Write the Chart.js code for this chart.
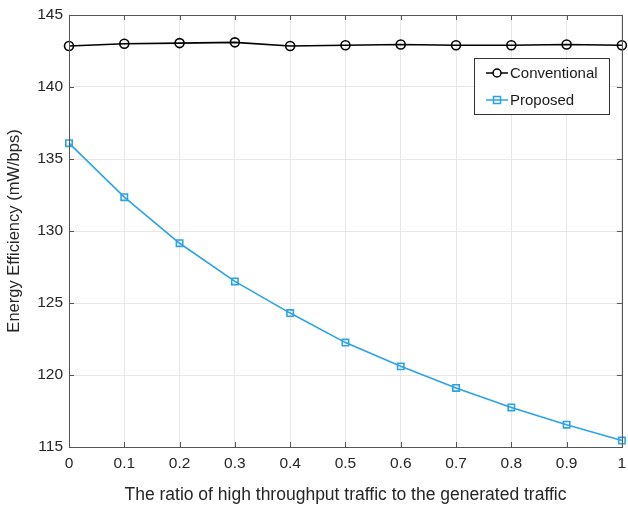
<!DOCTYPE html>
<html><head><meta charset="utf-8">
<script src="https://cdn.jsdelivr.net/npm/chart.js@4/dist/chart.umd.min.js"></script>
<style>html,body{margin:0;padding:0;background:#fff}#wrap{width:628px;height:506px}</style>
</head><body><div id="wrap"><canvas id="c" width="628" height="506"></canvas></div>
<script>
const ratios = [0, 0.1, 0.2, 0.3, 0.4, 0.5, 0.6, 0.7, 0.8, 0.9, 1];
const conventional = [142.85, 143.0, 143.05, 143.1, 142.85, 142.9, 142.95, 142.9, 142.9, 142.95, 142.9];
const proposed = [136.1, 132.35, 129.15, 126.5, 124.3, 122.25, 120.6, 119.1, 117.75, 116.55, 115.45];
const seriesNames = ['Conventional', 'Proposed'];
const xTitle = 'The ratio of high throughput traffic to the generated traffic';
const yTitle = 'Energy Efficiency (mW/bps)';

const FONT = '"Liberation Sans", Arial, sans-serif';
const BLUE = '#2ba3e6';

const boxPlugin = {
  id: 'box',
  afterDatasetsDraw(chart) {
    const {ctx, chartArea: a, scales} = chart;
    ctx.save();
    ctx.strokeStyle = '#555';
    ctx.lineWidth = 1;
    ctx.beginPath();
    scales.x.ticks.forEach(t => {
      const px = Math.round(scales.x.getPixelForValue(t.value)) + 0.5;
      ctx.moveTo(px, a.bottom); ctx.lineTo(px, a.bottom - 5);
      ctx.moveTo(px, a.top); ctx.lineTo(px, a.top + 5);
    });
    scales.y.ticks.forEach(t => {
      const py = Math.round(scales.y.getPixelForValue(t.value)) + 0.5;
      ctx.moveTo(a.left, py); ctx.lineTo(a.left + 5, py);
      ctx.moveTo(a.right, py); ctx.lineTo(a.right - 5, py);
    });
    ctx.stroke();
    ctx.strokeRect(Math.round(a.left) + 0.5, Math.round(a.top) + 0.5, Math.round(a.right - a.left), Math.round(a.bottom - a.top));
    // legend
    const lx = 474.5, ly = 58.5, lw = 135, lh = 56;
    ctx.fillStyle = '#fff';
    ctx.fillRect(lx, ly, lw, lh);
    ctx.strokeStyle = '#333';
    ctx.strokeRect(lx, ly, lw, lh);
    ctx.font = '15px ' + FONT;
    ctx.textBaseline = 'middle';
    const items = [
      {name: seriesNames[0], color: '#000', shape: 'circle', y: 73},
      {name: seriesNames[1], color: BLUE, shape: 'square', y: 100}
    ];
    items.forEach(it => {
      ctx.strokeStyle = it.color; ctx.lineWidth = 1.5;
      ctx.beginPath(); ctx.moveTo(486, it.y); ctx.lineTo(508, it.y); ctx.stroke();
      ctx.beginPath();
      if (it.shape === 'circle') { ctx.arc(497, it.y, 4, 0, Math.PI * 2); ctx.fillStyle = '#fff'; ctx.fill(); }
      else { ctx.rect(493.5, it.y - 3.5, 7, 7); }
      ctx.stroke();
      ctx.fillStyle = '#1a1a1a';
      ctx.fillText(it.name, 510, it.y + 1);
    });
    ctx.restore();
  }
};

new Chart(document.getElementById('c'), {
  type: 'line',
  data: {
    datasets: [
      {label: seriesNames[0], data: ratios.map((x, i) => ({x, y: conventional[i]})),
       borderColor: '#000', backgroundColor: 'rgba(0,0,0,0)', borderWidth: 1.6,
       pointStyle: 'circle', pointRadius: 4.5, pointBorderWidth: 1.6, pointBackgroundColor: 'rgba(0,0,0,0)', tension: 0},
      {label: seriesNames[1], data: ratios.map((x, i) => ({x, y: proposed[i]})),
       borderColor: BLUE, backgroundColor: 'rgba(0,0,0,0)', borderWidth: 1.6,
       pointStyle: 'rect', pointRadius: 4.5, pointBorderWidth: 1.6, pointBackgroundColor: 'rgba(0,0,0,0)', tension: 0}
    ]
  },
  options: {
    responsive: false, animation: false, devicePixelRatio: 1,
    clip: false,
    layout: {padding: {top: 15, right: 4, left: 0, bottom: 0}},
    plugins: {legend: {display: false}, tooltip: {enabled: false}},
    scales: {
      x: {
        type: 'linear', min: 0, max: 1,
        afterFit(s) { s.height = 59; s.paddingLeft = 0; s.paddingRight = 0; },
        ticks: {stepSize: 0.1, color: '#262626', font: {family: FONT, size: 15.5}, padding: 7, maxRotation: 0,
                callback: v => String(Number(v.toFixed(1)))},
        grid: {color: '#e8e8e8', drawTicks: false, lineWidth: 1},
        border: {display: false},
        title: {display: true, text: xTitle, color: '#262626', font: {family: FONT, size: 17.5}, padding: {top: 14, bottom: 0}}
      },
      y: {
        min: 115, max: 145,
        afterFit(s) { s.width = 69; s.paddingTop = 0; s.paddingBottom = 0; },
        ticks: {stepSize: 5, color: '#262626', font: {family: FONT, size: 15.5}, padding: 6},
        grid: {color: '#e8e8e8', drawTicks: false, lineWidth: 1},
        border: {display: false},
        title: {display: true, text: yTitle, color: '#262626', font: {family: FONT, size: 16.5}, padding: {top: 5, bottom: 4}}
      }
    }
  },
  plugins: [boxPlugin]
});
</script>
</body></html>
